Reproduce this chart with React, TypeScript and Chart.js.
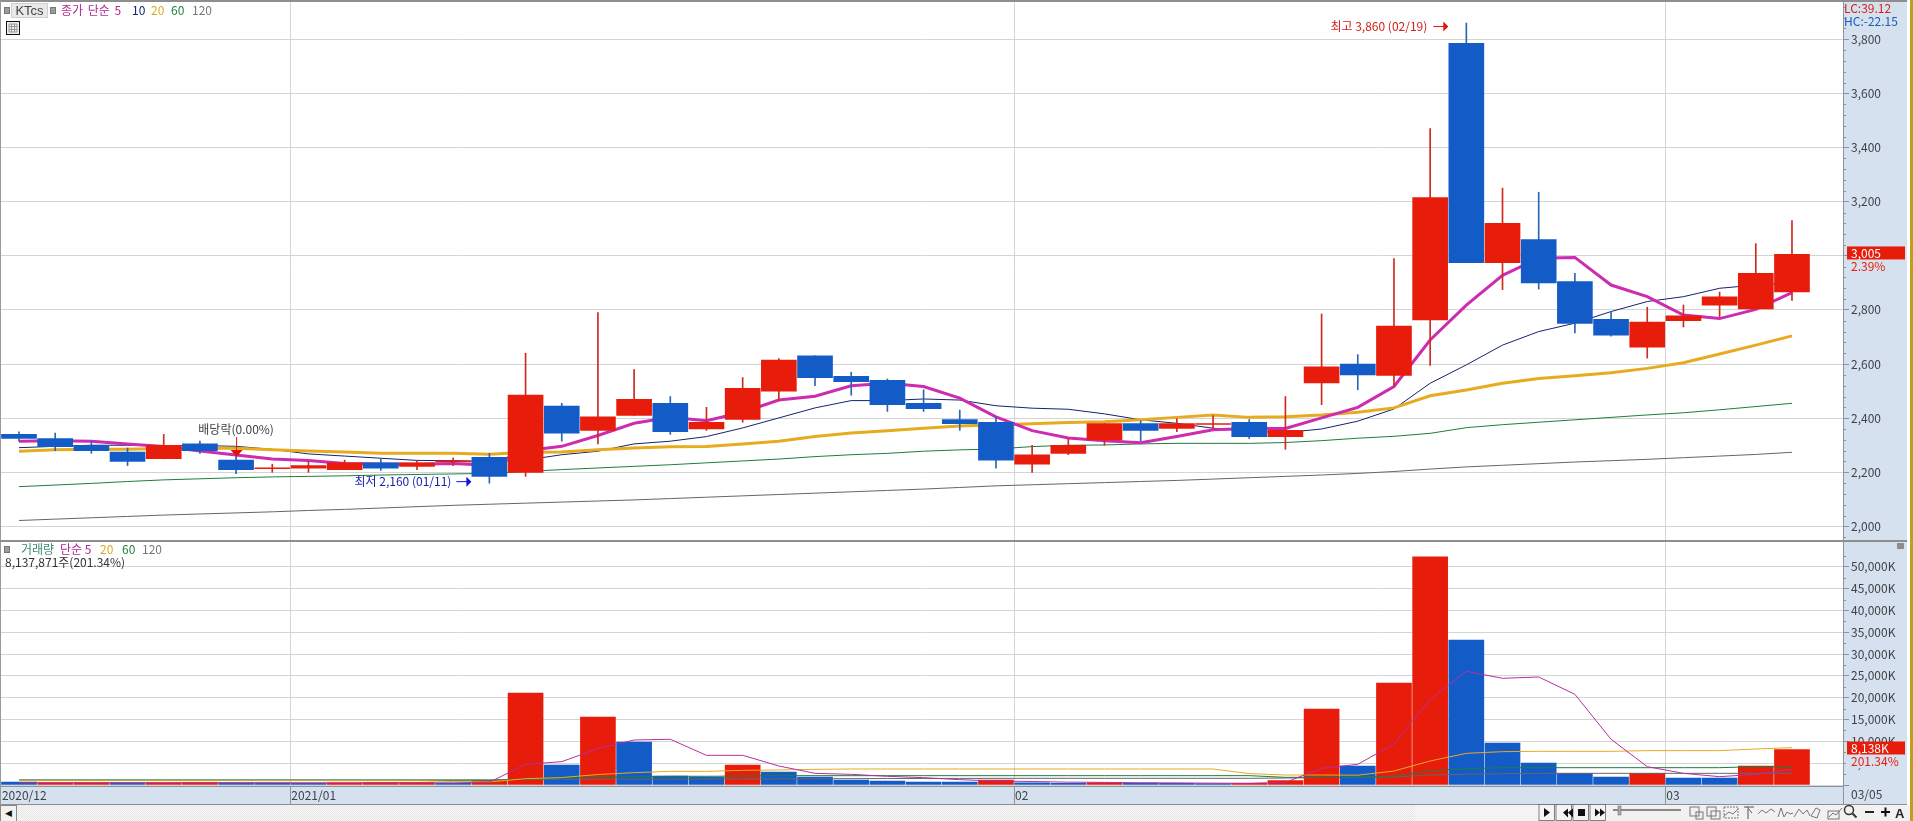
import React, { useEffect, useRef } from "react";
import { Chart, registerables } from "chart.js";

Chart.register(...registerables);

// ---- data ----
const opens = [2340,2325,2300,2275,2250,2305,2245,2213,2215,2210,2235,2222,2238,2255,2200,2445,2355,2410,2455,2360,2395,2500,2630,2555,2540,2455,2395,2385,2230,2270,2320,2380,2362,2377,2385,2332,2530,2600,2558,2763,3785,2975,3060,2905,2765,2662,2760,2818,2804,2867];
const closes = [2325,2295,2280,2240,2300,2280,2210,2217,2225,2235,2215,2235,2242,2185,2485,2345,2405,2470,2350,2385,2510,2615,2550,2535,2450,2435,2380,2245,2265,2300,2380,2355,2380,2380,2332,2355,2590,2560,2740,3215,2975,3120,2900,2750,2707,2755,2778,2848,2935,3005];
const highs = [2350,2345,2315,2290,2340,2315,2260,2230,2240,2245,2250,2243,2253,2270,2640,2455,2790,2580,2480,2440,2550,2620,2630,2570,2545,2505,2430,2405,2300,2325,2380,2390,2398,2410,2395,2480,2785,2635,2990,3470,3860,3250,3235,2935,2795,2810,2818,2866,3045,3130];
const lows = [2315,2280,2270,2225,2250,2270,2195,2200,2200,2210,2207,2210,2225,2160,2185,2315,2305,2410,2340,2355,2385,2465,2520,2485,2425,2425,2355,2215,2200,2265,2300,2317,2350,2362,2325,2285,2450,2505,2518,2595,2975,2875,2877,2715,2703,2622,2737,2775,2804,2835];

const priceMa5 = [2315,2317,2315,2305,2295,2279,2264,2249,2244,2233,2231,2230,2233,2226,2280,2296,2336,2381,2403,2391,2422,2467,2481,2520,2529,2517,2474,2405,2354,2327,2317,2309,2332,2357,2362,2362,2401,2440,2517,2689,2818,2928,2991,2994,2892,2849,2781,2768,2802,2864];
const priceMa10 = [2291,2296,2300,2300,2299,2299,2296,2285,2268,2260,2252,2244,2243,2240,2245,2265,2278,2305,2315,2332,2364,2401,2438,2465,2465,2471,2467,2446,2437,2433,2416,2394,2381,2363,2352,2347,2360,2389,2434,2529,2597,2670,2720,2751,2794,2831,2849,2880,2892,2900];
const priceMa20 = [2278,2283,2285,2285,2288,2290,2289,2283,2279,2275,2270,2270,2270,2267,2274,2275,2283,2290,2294,2295,2305,2315,2332,2345,2354,2363,2371,2376,2379,2384,2387,2394,2403,2412,2403,2405,2412,2422,2438,2483,2504,2529,2547,2557,2568,2584,2605,2637,2670,2704];
const priceMa60 = [2147,2153,2159,2166,2172,2176,2180,2183,2185,2187,2190,2192,2194,2196,2203,2210,2216,2222,2228,2235,2242,2249,2258,2265,2270,2278,2283,2286,2295,2300,2301,2305,2307,2307,2307,2310,2317,2326,2333,2344,2365,2376,2385,2394,2403,2412,2420,2431,2443,2455];
const priceMa120 = [2022,2027,2032,2037,2042,2046,2050,2054,2059,2063,2068,2073,2078,2082,2086,2090,2094,2098,2103,2108,2113,2118,2123,2128,2133,2138,2144,2150,2154,2158,2162,2166,2170,2175,2180,2185,2190,2196,2203,2212,2220,2226,2232,2238,2243,2248,2254,2260,2266,2274];

const volumes = [690,500,480,470,520,550,500,470,450,520,540,560,400,990,21090,4584,15585,9855,2060,1830,4584,2980,1830,1146,917,690,690,1146,500,400,500,450,400,350,400,990,17420,4355,23380,52260,33230,9630,5040,2675,1830,2675,1600,1600,4355,8138];
const volumeUp = [false,true,true,false,true,true,false,false,false,true,true,true,false,true,true,false,true,false,false,false,true,false,false,false,false,false,false,true,false,false,true,false,false,false,true,true,true,false,true,true,false,false,false,false,false,true,false,false,true,true];
const volMa5 = [520,520,530,520,510,510,510,500,490,490,500,510,500,620,4737,5350,8330,10310,10470,6800,6800,4355,2675,2445,1990,1680,1220,920,800,650,600,500,480,420,400,610,3820,4737,9397,19635,26050,24450,24750,20780,10470,4200,2670,1910,2445,3590];
const volMa20 = [1000,1000,1000,1000,1000,1000,1000,1000,1000,1000,990,980,800,700,1450,1700,2400,2830,3130,3130,3360,3450,3590,3670,3670,3670,3670,3670,3670,3670,3670,3670,3670,3670,2600,2290,2290,2250,3200,5500,7260,7640,7716,7716,7716,7870,7870,7870,8250,8560];
const volMa60 = [1146,1146,1146,1146,1146,1146,1146,1146,1146,1146,1146,1146,1146,1146,1300,1757,1800,1900,2000,2000,2050,2140,2140,2140,2140,2140,2140,2140,2140,2140,2140,2140,2140,2140,2140,1760,1750,1750,2000,3285,3740,3970,3970,3970,3970,3970,3970,3970,4200,4200];
const volMa120 = [1100,1100,1100,1100,1100,1100,1100,1100,1100,1100,1100,1100,1100,1100,1300,1300,1320,1340,1360,1380,1400,1420,1440,1460,1480,1500,1510,1520,1530,1530,1530,1530,1530,1530,1530,1600,1700,1750,1850,2290,2445,2600,2675,2675,2675,2675,2675,2675,2675,2675];

const priceTicks = [1960,2000,2040,2080,2120,2160,2200,2240,2280,2320,2360,2400,2440,2480,2520,2560,2600,2640,2680,2720,2760,2800,2840,2880,2920,2960,3000,3040,3080,3120,3160,3200,3240,3280,3320,3360,3400,3440,3480,3520,3560,3600,3640,3680,3720,3760,3800,3840,3880,3920];
const volumeTicks = [0,2500,5000,7500,10000,12500,15000,17500,20000,22500,25000,27500,30000,32500,35000,37500,40000,42500,45000,47500,50000,52500];
const monthTickIndex = [-0.5,7.5,27.5,45.5];
const monthLabels = ["2020/12","2021/01","02","03"];
const lastDateLabel = "03/05";

// ---- styling ----
const UP = "#e71c0a";
const DOWN = "#135cc8";
const UP_WICK = "#cf2a20";
const DOWN_WICK = "#2a66b4";
const PANEL = "#d6e1ef";
const GRID = "#d4d4d4";
const AXIS = "#8b939d";
const TEXT = "#3e4248";
const FONT = '"Noto Sans CJK KR"';
const C5 = "#cd2bb0";
const C10 = "#14226f";
const C20 = "#e6ab1e";
const C60 = "#1f7d3f";
const C120 = "#666666";

const X_MIN = -0.525;
const X_MAX = 50.41;

const fmt = (v: number) => v.toLocaleString("en-US");
const xy = (arr: number[]) => arr.map((y, x) => ({ x, y }));
const line = (label: string, arr: number[], color: string, width: number, order: number) => ({
  type: "line" as const,
  label,
  data: xy(arr),
  borderColor: color,
  borderWidth: width,
  pointRadius: 0,
  tension: 0,
  order,
});

const noPad = (s: any) => {
  s.paddingTop = 0;
  s.paddingBottom = 0;
  s.paddingLeft = 0;
  s.paddingRight = 0;
};

const xScale = (extra: any) => ({
  type: "linear",
  offset: false,
  min: X_MIN,
  max: X_MAX,
  afterBuildTicks: (s: any) => {
    s.ticks = monthTickIndex.map((value) => ({ value }));
  },
  afterFit: noPad,
  grid: { color: GRID, lineWidth: 1, drawTicks: false, offset: false },
  border: { display: false },
  ticks: { display: false, autoSkip: false, maxRotation: 0, minRotation: 0 },
  ...extra,
});

const yScale = (min: number, max: number, tickValues: number[], major: number, format: (v: number) => string) => ({
  position: "right",
  min,
  max,
  afterBuildTicks: (s: any) => {
    s.ticks = tickValues.map((value) => ({ value }));
  },
  afterFit: (s: any) => {
    s.width = 64;
    noPad(s);
  },
  grid: {
    color: (c: any) => (c.tick && c.tick.value % major === 0 ? GRID : "transparent"),
    tickColor: (c: any) => (c.tick && c.tick.value % major === 0 ? AXIS : "transparent"),
    tickLength: 6,
    lineWidth: 1,
  },
  border: { color: AXIS, width: 1 },
  ticks: {
    autoSkip: false,
    padding: 2,
    color: TEXT,
    font: { family: FONT, size: 12 },
    callback: (v: number) => (v % major === 0 && v > 0 ? format(v) : ""),
  },
});

const minorTicks = (major: number) => ({
  id: "minorTicks",
  afterDraw(chart: any) {
    const s = chart.scales.y;
    const c = chart.ctx;
    c.save();
    c.strokeStyle = AXIS;
    c.lineWidth = 1;
    s.ticks.forEach((t: any) => {
      if (t.value % major === 0) return;
      const y = Math.round(s.getPixelForValue(t.value)) + 0.5;
      c.beginPath();
      c.moveTo(s.left, y);
      c.lineTo(s.left + 3, y);
      c.stroke();
    });
    c.restore();
  },
});

const text = (c: any, s: string, x: number, y: number, color: string, align: string = "left") => {
  c.fillStyle = color;
  c.textAlign = align;
  c.textBaseline = "middle";
  c.font = `12px ${FONT}`;
  c.fillText(s, x, y);
};

const arrowRight = (c: any, x0: number, x1: number, y: number, color: string) => {
  c.strokeStyle = color;
  c.fillStyle = color;
  c.lineWidth = 1;
  c.beginPath();
  c.moveTo(x0, y + 0.5);
  c.lineTo(x1 - 4, y + 0.5);
  c.stroke();
  c.beginPath();
  c.moveTo(x1 - 5, y - 4.5);
  c.lineTo(x1, y + 0.5);
  c.lineTo(x1 - 5, y + 5.5);
  c.closePath();
  c.fill();
};

const tag = (chart: any, value: number, label: string, sub: string) => {
  const c = chart.ctx;
  const y = chart.scales.y.getPixelForValue(value) - 1.5;
  c.save();
  c.fillStyle = PANEL;
  c.fillRect(1846, y + 6, 60, 14);
  c.fillStyle = UP;
  c.fillRect(1847, y - 6.5, 58, 13);
  text(c, label, 1851, y, "#ffffff");
  text(c, sub, 1851, y + 13, UP);
  c.restore();
};

const priceOverlay = {
  id: "priceOverlay",
  afterDraw(chart: any) {
    const c = chart.ctx;
    const x = chart.scales.x;
    const y = chart.scales.y;
    c.save();
    const hx = x.getPixelForValue(40) - 18;
    const hy = y.getPixelForValue(3860) + 3;
    text(c, "최고 3,860 (02/19)", hx - 21, hy, "#d4201a", "right");
    arrowRight(c, hx - 15, hx, hy, "#e0140c");
    const lx = x.getPixelForValue(13) - 18;
    const ly = y.getPixelForValue(2160) - 2;
    text(c, "최저 2,160 (01/11)", lx - 20, ly, "#1a1fa8", "right");
    arrowRight(c, lx - 15, lx, ly, "#1010d8");
    const dx = x.getPixelForValue(6);
    const dy = y.getPixelForValue(2260);
    text(c, "배당락(0.00%)", dx, dy - 27, "#3e4248", "center");
    c.strokeStyle = "#e0140c";
    c.fillStyle = "#e0140c";
    c.lineWidth = 1;
    c.beginPath();
    c.moveTo(dx + 0.5, dy - 19);
    c.lineTo(dx + 0.5, dy - 4);
    c.stroke();
    c.beginPath();
    c.moveTo(dx - 5.5, dy - 6);
    c.lineTo(dx + 6.5, dy - 6);
    c.lineTo(dx + 0.5, dy + 1);
    c.closePath();
    c.fill();
    text(c, "LC:39.12", 1844, 8, "#d4201a");
    text(c, "HC:-22.15", 1844, 21, "#1a5ab8");
    c.restore();
    tag(chart, 3005, "3,005", "2.39%");
  },
};

const volumeOverlay = {
  id: "volumeOverlay",
  afterDraw(chart: any) {
    const c = chart.ctx;
    tag(chart, 8138, "8,138K", "201.34%");
    c.save();
    text(c, lastDateLabel, 1851, 253, TEXT);
    c.fillStyle = "#8d8d8d";
    c.fillRect(1897, 2, 7, 6);
    c.restore();
  },
};

const Toolbar = () => (
  <svg width={375} height={17} style={{ position: "absolute", left: 1538, top: 804 }}>
    <g fill="#111">
      {[0, 17, 34, 51].map((x) => (
        <rect key={x} x={x + 1} y={0.5} width={15.5} height={16} fill="#f4f4f4" stroke="#666" strokeWidth={0.8} />
      ))}
      <path d="M6 4v9l6-4.5z" />
      <path d="M25 8.5l5-4v9zM30 8.5l5-4v9z" />
      <rect x={40} y={5} width={7} height={7} />
      <path d="M57 4.5l5 4-5 4zM62 4.5l5 4-5 4z" />
    </g>
    <rect x={75} y={5} width={68} height={2} fill="#888" />
    <rect x={80} y={2} width={3} height={9} fill="#aaa" stroke="#666" strokeWidth={0.5} />
    <g fill="none" stroke="#777" strokeWidth={1}>
      <rect x={152} y={3} width={9} height={9} />
      <rect x={158} y={8} width={7} height={7} />
      <rect x={169} y={3} width={9} height={9} />
      <rect x={173} y={7} width={9} height={8} />
      <rect x={186} y={3} width={14} height={11} strokeDasharray="2 1" />
      <path d="M186 12l5-4 4 2 5-5" />
      <path d="M206 3h10M209 3l5 6M210 5v10" stroke="#555" />
      <path d="M220 10l4-4 4 3 5-4 4 3" />
      <path d="M240 13l3-9 3 9 3-5 3 2 3-1" />
      <path d="M256 13l5-8 4 5 4-4 3 6" />
      <path d="M273 12l5-8 4 2-3 8z" />
      <rect x={290} y={7} width={11} height={8} />
      <path d="M291 13l4-4 3 2 6-7" />
      <circle cx={311} cy={6} r={4.5} stroke="#333" strokeWidth={1.5} />
      <path d="M314.5 9.5l4 4" stroke="#333" strokeWidth={2} />
    </g>
    <rect x={327} y={7} width={9} height={2} fill="#222" />
    <path d="M343 8h9M347.5 3.5v9" stroke="#111" strokeWidth={2} />
    <text x={357} y={14} fontFamily="Liberation Sans" fontSize={13} fontWeight={700} fill="#222">
      A
    </text>
  </svg>
);

const Label = ({ x, y, color, children, ws = 0 }: any) => (
  <span
    style={{
      position: "absolute",
      left: x,
      top: y,
      color,
      font: `12px/14px ${FONT}`,
      whiteSpace: "pre",
      wordSpacing: ws,
    }}
  >
    {children}
  </span>
);

const Sq = ({ x, y, color = "#9b9b9b" }: any) => (
  <span
    style={{
      position: "absolute",
      left: x,
      top: y,
      width: 4,
      height: 5,
      background: color,
      border: "1px solid #777",
    }}
  />
);

export default function App() {
  const priceRef = useRef<HTMLCanvasElement>(null);
  const volumeRef = useRef<HTMLCanvasElement>(null);

  useEffect(() => {
    document.body.style.margin = "0";
    const up = closes.map((v, i) => v >= opens[i]);
    const price = new Chart(priceRef.current as any, {
      type: "bar",
      data: {
        datasets: [
          {
            label: "body",
            data: opens.map((o, x) => ({ x, y: [o, closes[x]] })),
            backgroundColor: up.map((u) => (u ? UP : DOWN)),
            barThickness: 35,
            grouped: false,
            borderSkipped: false,
            order: 0,
          },
          {
            label: "wick",
            data: lows.map((l, x) => ({ x, y: [l, highs[x]] })),
            backgroundColor: up.map((u) => (u ? UP_WICK : DOWN_WICK)),
            barThickness: 1,
            grouped: false,
            order: 1,
          },
          line("5", priceMa5, C5, 3, 2),
          line("20", priceMa20, C20, 3, 3),
          line("10", priceMa10, C10, 1, 4),
          line("60", priceMa60, C60, 1, 5),
          line("120", priceMa120, C120, 1, 6),
        ] as any,
      },
      options: {
        animation: false,
        responsive: false,
        devicePixelRatio: 1,
        layout: { autoPadding: false, padding: { right: 6 } },
        plugins: { legend: { display: false }, tooltip: { enabled: false } },
        events: [],
        scales: {
          x: xScale({}),
          y: yScale(1946.2, 3945.2, priceTicks, 200, fmt),
        },
      } as any,
      plugins: [minorTicks(200), priceOverlay],
    });

    const volume = new Chart(volumeRef.current as any, {
      type: "bar",
      data: {
        datasets: [
          {
            label: "volume",
            data: volumes.map((y, x) => ({ x, y })),
            backgroundColor: volumeUp.map((u) => (u ? UP : DOWN)),
            barThickness: 35,
            grouped: false,
            order: 5,
          },
          line("120", volMa120, C120, 1, 4),
          line("60", volMa60, C60, 1, 3),
          line("20", volMa20, C20, 1, 2),
          line("5", volMa5, "#b52fa0", 1, 1),
        ] as any,
      },
      options: {
        animation: false,
        responsive: false,
        devicePixelRatio: 1,
        layout: { autoPadding: false, padding: { right: 6 } },
        plugins: { legend: { display: false }, tooltip: { enabled: false } },
        events: [],
        scales: {
          x: xScale({
            afterBuildTicks: (s: any) => {
              s.ticks = [...monthTickIndex, X_MAX].map((value) => ({ value }));
            },
            afterFit: (s: any) => {
              s.height = 18;
              noPad(s);
            },
            grid: { color: GRID, lineWidth: 1, drawTicks: true, tickLength: 18, tickColor: AXIS, offset: false },
            border: { display: true, color: AXIS, width: 1 },
            ticks: {
              display: true,
              autoSkip: false,
              maxRotation: 0,
              minRotation: 0,
              align: "start",
              labelOffset: 1,
              padding: -16,
              color: TEXT,
              font: { family: FONT, size: 12 },
              callback: (_: number, i: number) => monthLabels[i] ?? "",
            },
          }),
          y: yScale(-229, 55912, volumeTicks, 5000, (v) => `${fmt(v)}K`),
        },
      } as any,
      plugins: [minorTicks(5000), volumeOverlay],
    });

    return () => {
      price.destroy();
      volume.destroy();
    };
  }, []);

  return (
    <div style={{ position: "absolute", left: 0, top: 0, width: 1913, height: 821, background: "#fff", overflow: "hidden" }}>
      <div style={{ position: "absolute", left: 1843, top: 0, width: 64, height: 804, background: PANEL }} />
      <div style={{ position: "absolute", left: 0, top: 786, width: 1907, height: 18, background: PANEL }} />
      <canvas ref={priceRef} width={1913} height={541} style={{ position: "absolute", left: 0, top: 0, width: 1913, height: 541 }} />
      <canvas ref={volumeRef} width={1913} height={263} style={{ position: "absolute", left: 0, top: 541, width: 1913, height: 263 }} />
      <div style={{ position: "absolute", left: 0, top: 0, width: 1907, height: 2, background: "#8e8e8e" }} />
      <div style={{ position: "absolute", left: 0, top: 0, width: 1, height: 804, background: "#9a9a9a" }} />
      <div style={{ position: "absolute", left: 0, top: 540, width: 1907, height: 2, background: "#8e8e8e" }} />
      <div style={{ position: "absolute", left: 0, top: 804, width: 1907, height: 1, background: "#8e8e8e" }} />
      <div style={{ position: "absolute", left: 1910, top: 0, width: 3, height: 821, background: "#bda022" }} />
      <Sq x={4} y={7} />
      <span
        style={{
          position: "absolute",
          left: 11,
          top: 3,
          width: 35,
          height: 13,
          background: "#e9e9e9",
          border: "1px solid #cfcfcf",
          font: `13px/14px "Liberation Sans"`,
          color: "#444",
          textAlign: "center",
        }}
      >
        KTcs
      </span>
      <Sq x={50} y={7} />
      <Label x={61} y={3} color="#b02a92" ws={2}>종가 단순 5</Label>
      <Label x={132} y={3} color={C10}>10</Label>
      <Label x={151} y={3} color="#dca82a">20</Label>
      <Label x={171} y={3} color={C60}>60</Label>
      <Label x={192} y={3} color="#777">120</Label>
      <svg width={14} height={14} style={{ position: "absolute", left: 6, top: 21 }}>
        <rect x={0.5} y={0.5} width={13} height={13} fill="#eee" stroke="#111" />
        <path d="M3 3h8v8H3zM3 5.5h8M3 8.5h8M5.5 3v8M8.5 3v8" fill="none" stroke="#888" strokeWidth={0.8} />
      </svg>
      <Sq x={4} y={546} />
      <Label x={21} y={542} color="#3a8a70">거래량</Label>
      <Label x={60} y={542} color="#b02a92">단순 5</Label>
      <Label x={100} y={542} color="#dca82a">20</Label>
      <Label x={122} y={542} color={C60}>60</Label>
      <Label x={142} y={542} color="#777">120</Label>
      <Label x={5} y={555} color="#333">8,137,871주(201.34%)</Label>
      <div
        style={{
          position: "absolute",
          left: 0,
          top: 805,
          width: 1910,
          height: 16,
          background: "repeating-conic-gradient(#e6e6e6 0 25%, #f8f8f8 0 50%) 0 0/2px 2px",
        }}
      />
      <div
        style={{
          position: "absolute",
          left: 0,
          top: 805,
          width: 15,
          height: 15,
          background: "#f2f2f2",
          border: "1px solid #888",
          color: "#111",
          font: `9px/15px "DejaVu Sans"`,
          textAlign: "center",
        }}
      >
        ◀
      </div>
      <div style={{ position: "absolute", left: 1415, top: 805, width: 123, height: 16, background: "#f3f3f3" }} />
      <div style={{ position: "absolute", left: 1538, top: 805, width: 372, height: 16, background: "#f1f1f1" }} />
      <Toolbar />
    </div>
  );
}
